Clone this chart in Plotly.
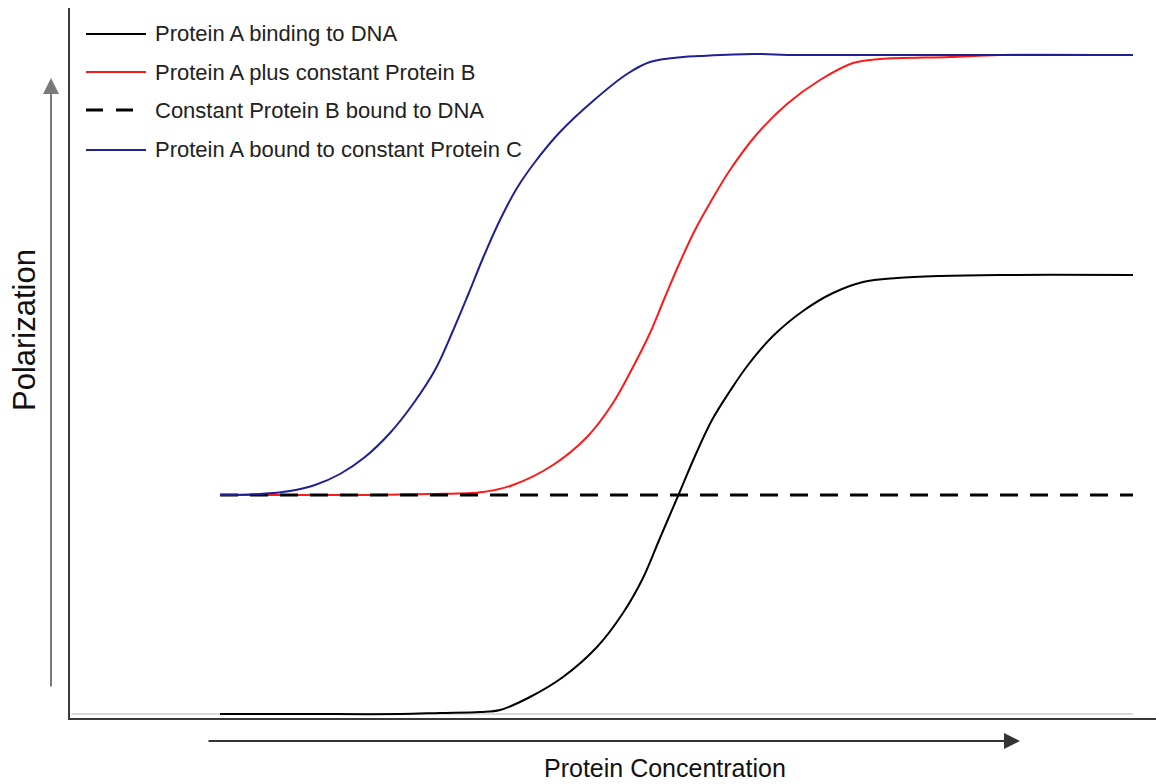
import plotly.graph_objects as go

# ---- data (arbitrary units: concentration, polarization) ----
names = [
    "Protein A binding to DNA",
    "Protein A plus constant Protein B",
    "Constant Protein B bound to DNA",
    "Protein A bound to constant Protein C",
]
colors = ["#000000", "#ff1a1a", "#000000", "#1f1f96"]

black_x = [15.0, 23.0, 33.0, 37.0, 41.0, 43.0, 46.0, 49.3, 52.7, 55.3, 57.3, 59.0, 60.8,
           62.5, 64.2, 66.0, 67.8, 70.3, 73.3, 76.3, 79.3, 82.7, 87.0, 93.0, 106.3]
black_y = [0.4, 0.4, 0.4, 0.5, 0.6, 0.8, 2.1, 4.1, 7.1, 10.5, 14.0, 18.0, 22.2,
           26.2, 29.8, 32.7, 35.3, 38.2, 40.7, 42.5, 43.6, 44.0, 44.2, 44.3, 44.3]

red_x = [15.0, 23.0, 29.7, 36.0, 41.3, 44.3, 48.3, 51.7, 54.3, 56.3, 58.0, 59.5, 61.0,
         62.5, 64.0, 66.0, 68.7, 71.7, 75.0, 78.3, 81.0, 88.0, 93.0, 106.3]
red_y = [22.3, 22.3, 22.3, 22.4, 22.6, 23.3, 25.3, 28.1, 31.5, 35.1, 38.5, 42.1, 45.6,
         48.8, 51.5, 54.8, 58.4, 61.4, 63.8, 65.5, 65.9, 66.1, 66.3, 66.3]

dash_x = [15.0, 106.3]
dash_y = [22.3, 22.3]

blue_x = [15.0, 19.0, 22.0, 24.5, 27.0, 29.5, 32.0, 34.3, 36.5, 38.2, 39.8, 41.3, 43.0,
          44.7, 46.5, 49.0, 52.3, 55.7, 58.0, 61.3, 63.0, 68.2, 73.0, 106.3]
blue_y = [22.3, 22.4, 22.7, 23.3, 24.4, 26.1, 28.5, 31.4, 34.8, 38.5, 42.3, 46.0, 49.8,
          53.0, 55.6, 58.6, 61.7, 64.4, 65.6, 66.1, 66.2, 66.4, 66.3, 66.3]

X_RANGE = [0, 108.6]
Y_RANGE = [0, 71.0]

W, H = 1156, 784
ML, MR, MT, MB = 70, 0, 8, 66
PW, PH = W - ML - MR, H - MT - MB


def px(x):
    return (x - ML) / PW


def py(y):
    return (H - MB - y) / PH


FONT = "Liberation Sans, Arial, sans-serif"

fig = go.Figure()

# light baseline
fig.add_shape(type="line", xref="x", yref="y", x0=0.2, x1=106.3, y0=0.4, y1=0.4,
              line=dict(color="#cfcfcf", width=1.5), layer="below")

series = [
    (black_x, black_y, dict(color=colors[0], width=2)),
    (red_x, red_y, dict(color=colors[1], width=2)),
    (dash_x, dash_y, dict(color=colors[2], width=3, dash="18px,12px")),
    (blue_x, blue_y, dict(color=colors[3], width=2)),
]
for (xs, ys, ln), nm in zip(series, names):
    shape = "spline" if len(xs) > 2 else "linear"
    ln = dict(ln)
    ln["shape"] = shape
    if shape == "spline":
        ln["smoothing"] = 1.0
    fig.add_trace(go.Scatter(x=xs, y=ys, mode="lines", name=nm, line=ln,
                             showlegend=False, hoverinfo="name"))

# manual legend
row_y = [34, 72, 110, 150]
for nm, c, (xs, ys, ln), ry in zip(names, colors, series, row_y):
    d = ln.get("dash")
    fig.add_shape(type="line", xref="paper", yref="paper",
                  x0=px(86), x1=px(146), y0=py(ry), y1=py(ry),
                  line=dict(color=c, width=ln["width"], dash="17px,13px" if d else "solid"))
    fig.add_annotation(xref="paper", yref="paper", x=px(153), y=py(ry), text=nm,
                       showarrow=False, xanchor="left", yanchor="middle",
                       font=dict(family=FONT, size=22, color="#222222"))

# axis arrows
fig.add_annotation(xref="paper", yref="paper", x=px(51), y=py(78), ax=0, ay=610,
                   axref="pixel", ayref="pixel", showarrow=True, text="",
                   arrowhead=2, arrowsize=1.6, arrowwidth=2, arrowcolor="#7a7a7a")
fig.add_annotation(xref="paper", yref="paper", x=px(1020), y=py(741), ax=-813, ay=0,
                   axref="pixel", ayref="pixel", showarrow=True, text="",
                   arrowhead=2, arrowsize=1.6, arrowwidth=2, arrowcolor="#333333")

# axis titles
fig.add_annotation(xref="paper", yref="paper", x=px(25), y=py(330), text="Polarization",
                   showarrow=False, textangle=-90, xanchor="center", yanchor="middle",
                   font=dict(family=FONT, size=31, color="#111111"))
fig.add_annotation(xref="paper", yref="paper", x=px(665), y=py(768), text="Protein Concentration",
                   showarrow=False, xanchor="center", yanchor="middle",
                   font=dict(family=FONT, size=25, color="#111111"))

fig.update_layout(
    width=W, height=H,
    margin=dict(l=ML, r=MR, t=MT, b=MB),
    paper_bgcolor="white", plot_bgcolor="white",
    xaxis=dict(range=X_RANGE, showgrid=False, zeroline=False, showticklabels=False,
               ticks="", showline=True, linecolor="#3a3a3a", linewidth=2, fixedrange=True),
    yaxis=dict(range=Y_RANGE, showgrid=False, zeroline=False, showticklabels=False,
               ticks="", showline=True, linecolor="#3a3a3a", linewidth=2, fixedrange=True),
    showlegend=False,
)

fig.write_html("out.html", config={"displayModeBar": False},
               post_script="document.body.style.margin='0';document.body.style.overflow='hidden';")
